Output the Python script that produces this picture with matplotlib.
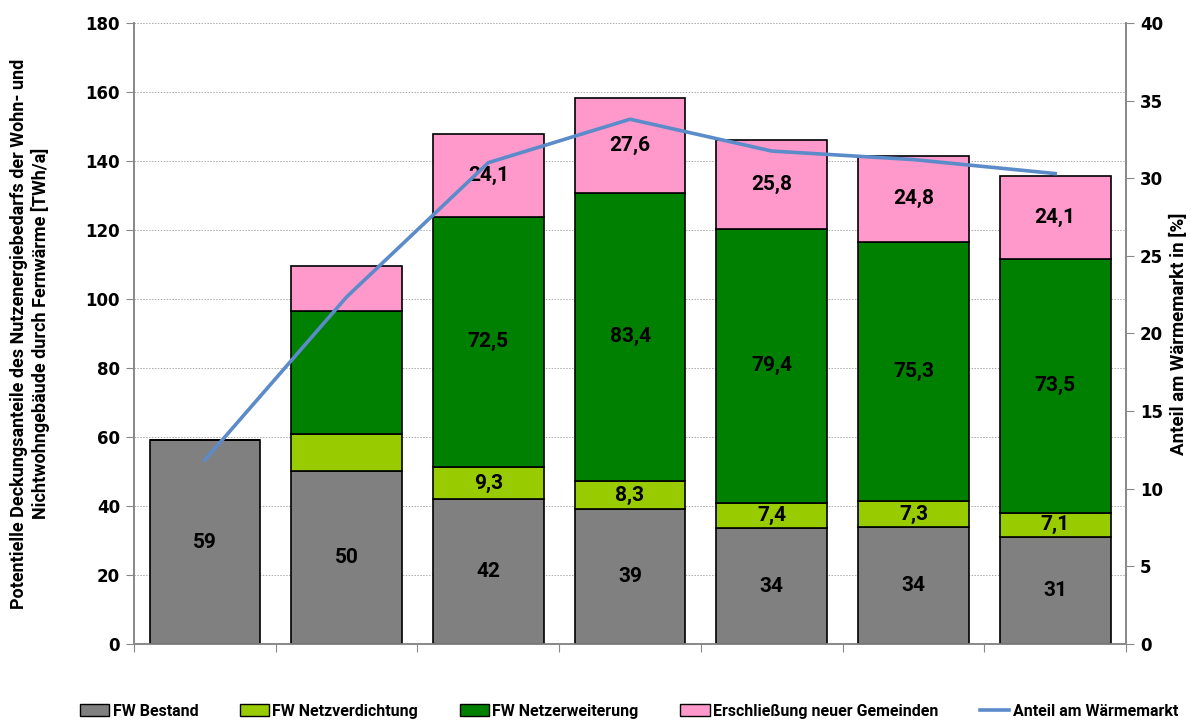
import numpy as np
import matplotlib
matplotlib.use("Agg")
import matplotlib.pyplot as plt
from matplotlib.patches import Patch
from matplotlib.lines import Line2D

plt.rcParams['font.family'] = ['DejaVu Sans']
narrow = ['Roboto', 'DejaVu Sans']

# data (TWh/a)
bestand = [59, 50, 42, 39, 33.5, 34, 31]
verdichtung = [0, 10.9, 9.3, 8.3, 7.4, 7.3, 7.1]
erweiterung = [0, 35.6, 72.5, 83.4, 79.4, 75.3, 73.5]
erschliessung = [0, 13.1, 24.1, 27.6, 25.8, 24.8, 24.1]
anteil = [11.85, 22.35, 31.0, 33.8, 31.75, 31.2, 30.3]  # %

lbl_bestand = ["59", "50", "42", "39", "34", "34", "31"]
lbl_verd = [None, None, "9,3", "8,3", "7,4", "7,3", "7,1"]
lbl_erw = [None, None, "72,5", "83,4", "79,4", "75,3", "73,5"]
lbl_ersch = [None, None, "24,1", "27,6", "25,8", "24,8", "24,1"]

names = ["FW Bestand", "FW Netzverdichtung", "FW Netzerweiterung",
         "Erschließung neuer Gemeinden", "Anteil am Wärmemarkt"]
colors = ["#808080", "#99CC00", "#008000", "#FF99CC"]
line_color = "#5B8BC9"

fig = plt.figure(figsize=(11.91, 7.2), dpi=100)
ax = fig.add_axes([0.1125, 0.1056, 0.833, 0.8625])
ax2 = ax.twinx()

x = np.arange(len(bestand))
w = 0.78
series = [bestand, verdichtung, erweiterung, erschliessung]
labels = [lbl_bestand, lbl_verd, lbl_erw, lbl_ersch]
bottom = np.zeros(len(x))
for vals, col, lbls in zip(series, colors, labels):
    vals = np.array(vals, dtype=float)
    ax.bar(x, vals, w, bottom=bottom, color=col, edgecolor="black",
           linewidth=1.2, zorder=3)
    for xi, b, v, t in zip(x, bottom, vals, lbls):
        if t:
            ax.text(xi, b + v / 2, t, ha="center", va="center", family=narrow,
                    fontsize=15, fontweight="bold", color="black", zorder=5)
    bottom += vals

ax2.plot(x, anteil, color=line_color, linewidth=2.6, zorder=4)

ax.set_xlim(-0.5, len(x) - 0.5)
ax.set_ylim(0, 180)
ax.set_yticks(np.arange(0, 181, 20))
ax2.set_ylim(0, 40)
ax2.set_yticks(np.arange(0, 41, 5))
ax.set_xticks(np.arange(-0.5, len(x), 1))
ax.set_xticklabels([])
ax.tick_params(axis="x", length=6, color="#888888", direction="out")
ax.grid(axis="y", linestyle=(0, (1.5, 1.5)), color="#aaaaaa", linewidth=0.7, zorder=0)
ax.set_axisbelow(True)

for a in (ax, ax2):
    a.spines["top"].set_visible(False)
    for s in ("left", "right", "bottom"):
        a.spines[s].set_color("#888888")
        a.spines[s].set_linewidth(1.2)
    a.tick_params(axis="y", length=6, color="#888888", labelsize=12, pad=4)
    for t in a.get_yticklabels():
        t.set_fontweight("bold")

ax.set_ylabel("Potentielle Deckungsanteile des Nutzenergiebedarfs der Wohn- und\n"
              "Nichtwohngebäude durch Fernwärme [TWh/a]", family=narrow,
              fontsize=13, fontweight="bold", linespacing=1.15)
ax.yaxis.set_label_coords(-0.085, 0.5)
ax2.set_ylabel("Anteil am Wärmemarkt in [%]", family=narrow, fontsize=13.5,
               fontweight="bold")
ax2.yaxis.set_label_coords(1.044, 0.5)

handles = [Patch(facecolor=c, edgecolor="black", linewidth=1) for c in colors]
handles.append(Line2D([0], [0], color=line_color, linewidth=2.6))
fig.legend(handles, names, loc="lower center", bbox_to_anchor=(0.528, -0.018),
           ncol=5, frameon=False, prop={"family": narrow, "weight": "bold", "size": 11.5},
           handlelength=1.85, handleheight=0.8, handletextpad=0.2, columnspacing=2.6)

fig.savefig("out.png", dpi=100)
